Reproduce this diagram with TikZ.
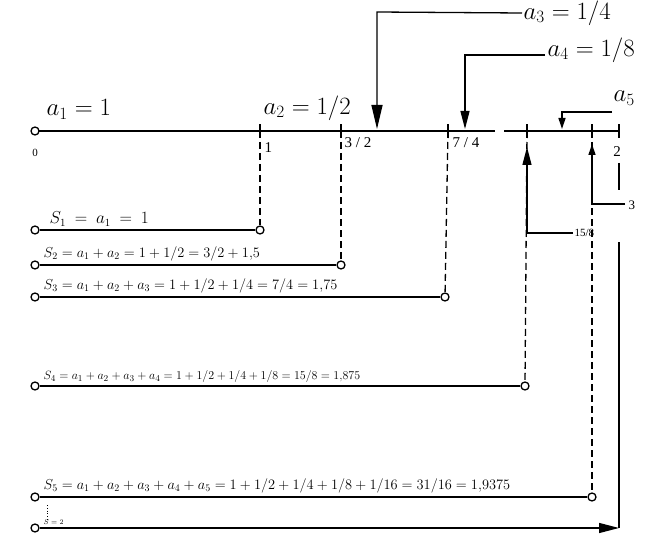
\documentclass[tikz,border=0pt]{standalone}
\usepackage{fontspec}
\setmainfont{Liberation Serif}
\usetikzlibrary{arrows.meta,positioning}
\tikzset{
  every picture/.style={line width=1.3pt},
  dot/.style={circle,draw,line width=1.3pt,fill=white,inner sep=0pt,minimum size=8pt},
  drop/.style={dashed,dash pattern=on 7pt off 4pt},
  big/.style={-{Triangle[length=24pt,width=11pt]}},
  mid/.style={-{Triangle[length=18pt,width=9pt]}},
  small/.style={-{Triangle[length=11pt,width=7pt]}},
  lab/.style={inner sep=1pt,font=\fontsize{23}{23}\selectfont},
  sum/.style={anchor=south west,inner sep=1pt,font=\fontsize{14}{14}\selectfont}
}
\begin{document}
\begin{tikzpicture}[x=1pt,y=-1pt]
\useasboundingbox (0,0) rectangle (649,535);
% axis
\coordinate (o) at (35,131);
\coordinate (t1) at (260,131);
\coordinate (t2) at (341,131);
\coordinate (t3) at (448,131);
\coordinate (t4) at (527,131);
\coordinate (t5) at (592,131);
\coordinate (t6) at (619,131);
\coordinate (gapL) at (495,131);
\coordinate (gapR) at (504,131);
\draw (o) -- (gapL) (gapR) -- (t6);
\node[dot] (n0) at (o) {};
\foreach \t in {t1,t2,t3,t4,t5,t6}
  \draw ([yshift=-7pt]\t) -- ([yshift=7pt]\t);
\node[font=\fontsize{11}{11}\selectfont] (l0) at (35,153) {0};
\node[anchor=west,inner sep=1pt,font=\fontsize{15}{15}\selectfont] (l1) at (263,148) {1};
\node[anchor=west,inner sep=1pt,font=\fontsize{15}{15}\selectfont] (l2) at (343,143) {3 / 2};
\node[anchor=west,inner sep=1pt,font=\fontsize{15}{15}\selectfont] (l3) at (451,143) {7 / 4};
\node[inner sep=1pt,font=\fontsize{15}{15}\selectfont] (l6) at (617,152) {2};
\node[lab,anchor=south west] (a1) at (45,121) {$a_1=1$};
\node[lab,anchor=south west] (a2) at (262,122) {$a_2=1/2$};
% partial sums
\foreach \n/\y/\x in {1/230/260,2/265/341,3/297/445,4/386/525,5/497/592}{
  \node[dot] (s\n l) at (35,\y) {};
  \node[dot] (s\n r) at (\x,\y) {};
  \draw (s\n l) -- (s\n r);
}
\node[dot] (sl) at (35,528) {};
\coordinate (corner) at (619,528);
\draw[-{Triangle[length=20pt,width=10pt]}] (sl) -- (corner);
\draw[drop] (t1) -- (s1r);
\draw[drop] (t2) -- (s2r);
\draw[drop] (t3) -- (s3r);
\draw[drop] (t4) -- (s4r);
\draw[drop] (t5) -- (s5r);
\draw[thick,dotted] (s5l) ++(12,8) -- ++(0,16);
\node[sum,font=\fontsize{16}{16}\selectfont] (S1) at (48,228) {$S_1\ =\ a_1\ =\ 1$};
\node[sum] (S2) at (42,263) {$S_2=a_1+a_2=1+1/2=3/2+1{,}5$};
\node[sum] (S3) at (42,295) {$S_3=a_1+a_2+a_3=1+1/2+1/4=7/4=1{,}75$};
\node[sum,font=\fontsize{13}{13}\selectfont] (S4) at (42,384) {$S_4=a_1+a_2+a_3+a_4=1+1/2+1/4+1/8=15/8=1{,}875$};
\node[sum,font=\fontsize{14.5}{14.5}\selectfont] (S5) at (42,495) {$S_5=a_1+a_2+a_3+a_4+a_5=1+1/2+1/4+1/8+1/16=31/16=1{,}9375$};
\node[sum,font=\fontsize{7}{7}\selectfont] (S) at (42,526) {$S=2$};
% term arrows
\node[lab,anchor=west] (a3) at (522,13) {$a_3=1/4$};
\node[lab,anchor=west] (a4) at (546,50) {$a_4=1/8$};
\node[lab,anchor=west] (a5) at (612,98) {$a_5$};
\coordinate (a3c) at (377,12);
\coordinate (a4c) at (465,55);
\coordinate (a5e) at (612,112);
\coordinate (a5c) at (562,112);
\draw[big] (a3.west) -- (a3c) -- (377,129);
\draw[mid] (545,55) -- (a4c) -- (465,129);
\draw[small] (a5e) -- (a5c) -- (562,129);
% sum arrows
\node[font=\fontsize{11}{11}\selectfont,anchor=west,inner sep=1pt] (f158) at (573,233) {15/8};
\node[anchor=west,inner sep=1pt,font=\fontsize{13}{13}\selectfont] (f3) at (627,205) {3};
\coordinate (f3e) at (625,204);
\draw[mid] (f158.west) -- (527,233) -- (527,147);
\draw[small] (f3e) -- (592,204) -- (592,144);
\draw (619,163) -- (619,190);
\draw (619,242) -- (corner);
\end{tikzpicture}
\end{document}
